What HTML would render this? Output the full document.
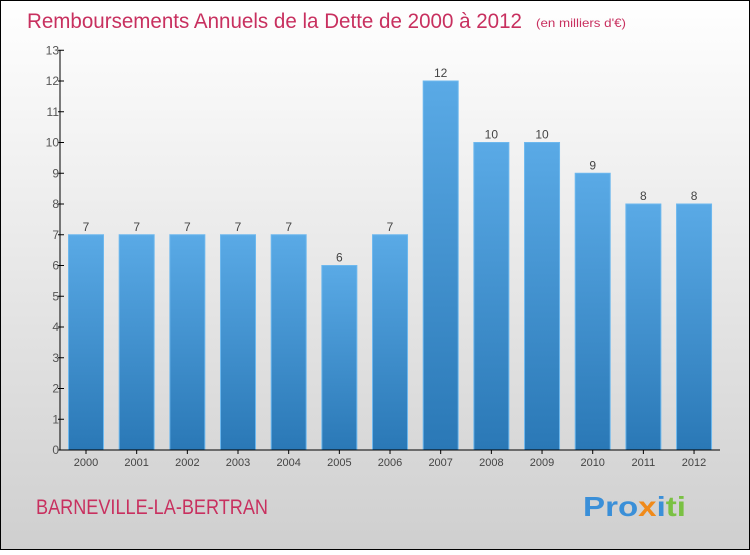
<!DOCTYPE html>
<html><head><meta charset="utf-8"><style>
body{margin:0;width:750px;height:550px;overflow:hidden;font-family:"Liberation Sans",sans-serif}
</style></head><body>
<svg width="750" height="550" xmlns="http://www.w3.org/2000/svg">
<defs>
<linearGradient id="bg" x1="0" y1="0" x2="0" y2="1"><stop offset="0" stop-color="#ffffff"/><stop offset="1" stop-color="#cfcfcf"/></linearGradient>
<linearGradient id="bar" x1="0" y1="0" x2="0" y2="1"><stop offset="0" stop-color="#5aaae6"/><stop offset="1" stop-color="#2a78b6"/></linearGradient>
</defs>
<rect x="0.5" y="0.5" width="749" height="549" fill="url(#bg)" stroke="#000"/>
<text x="27" y="28" font-size="21" fill="#c8305f" textLength="495" lengthAdjust="spacingAndGlyphs">Remboursements Annuels de la Dette de 2000 à 2012</text>
<text x="536" y="27" font-size="12" fill="#c8305f" textLength="90" lengthAdjust="spacingAndGlyphs">(en milliers d'€)</text>
<g id="plot"></g>
<text x="36" y="514" font-size="21" fill="#c8305f" textLength="232" lengthAdjust="spacingAndGlyphs">BARNEVILLE-LA-BERTRAN</text>
<text x="583" y="516" font-size="28" font-weight="bold" textLength="103" lengthAdjust="spacingAndGlyphs"><tspan fill="#3a8fd8">Pro</tspan><tspan fill="#f08a1a">x</tspan><tspan fill="#3a8fd8">i</tspan><tspan fill="#7ac143">ti</tspan></text>
</svg>
<script>
const categories=["2000","2001","2002","2003","2004","2005","2006","2007","2008","2009","2010","2011","2012"];
const values=[7,7,7,7,7,6,7,12,10,10,9,8,8];
const yTicks=[0,1,2,3,4,5,6,7,8,9,10,11,12,13];
const NS="http://www.w3.org/2000/svg";
const g=document.getElementById("plot");
const y=v=>450-v*30.75;
const x=i=>86+i*50.67;
function mk(t,a,p){const e=document.createElementNS(NS,t);for(const k in a)e.setAttribute(k,a[k]);(p||g).appendChild(e);return e;}
values.forEach((v,i)=>{
 const r=mk("rect",{x:x(i)-17.5,y:y(v),width:35,height:450-y(v),fill:"url(#bar)",stroke:"#6db8ee","stroke-width":1});
 
 
 const t=mk("text",{x:x(i),y:y(v)-4,"font-size":12,"text-anchor":"middle",fill:"#444"});t.textContent=v;
 
 
 const c=mk("text",{x:x(i),y:466,"font-size":11,"text-anchor":"middle",fill:"#444"});c.textContent=categories[i];
 
 
 mk("line",{x1:x(i),x2:x(i),y1:450,y2:454,stroke:"#000"});
});
yTicks.forEach(v=>{
 mk("line",{x1:58,x2:64,y1:y(v),y2:y(v),stroke:"#000"});
 const t=mk("text",{x:59,y:y(v)+4,"font-size":12,"text-anchor":"end",fill:"#555"});t.textContent=v;
 
 
});
const ya=mk("line",{x1:60,x2:60,y1:y(13),y2:450,stroke:"#000"});


const xa=mk("line",{x1:60,x2:720,y1:450,y2:450,stroke:"#000"});


</script>
</body></html>
